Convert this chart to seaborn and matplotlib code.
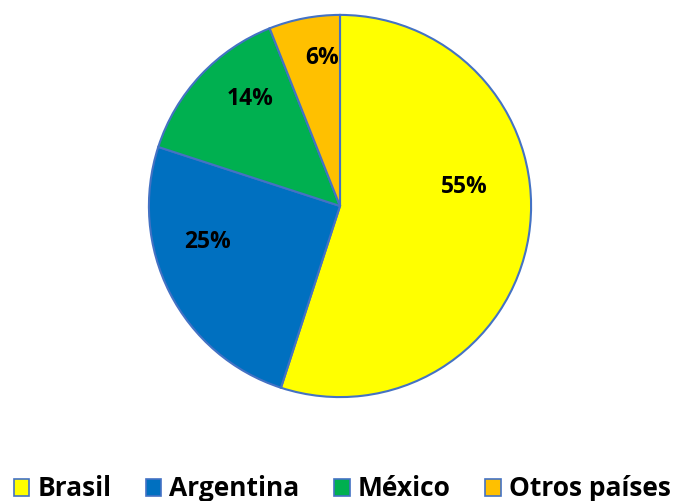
import matplotlib
matplotlib.use("Agg")
import matplotlib.pyplot as plt
import seaborn as sns
import numpy as np

paises = ["Brasil", "Argentina", "México", "Otros países"]
porcentajes = [55, 25, 14, 6]
colores = ["#FFFF00", "#0070C0", "#00B050", "#FFC000"]

sns.set_theme(style="white")
plt.rcParams["font.family"] = ["Open Sans", "DejaVu Sans"]

fig = plt.figure(figsize=(6.84, 5.01), dpi=100)
ax = fig.add_axes([147 / 684, 102 / 501, 386 / 684, 386 / 501])

wedges, texts, autotexts = ax.pie(
    porcentajes, colors=sns.color_palette(colores), startangle=90, counterclock=False,
    autopct="%d%%", pctdistance=0.7,
    wedgeprops=dict(edgecolor="#4472C4", linewidth=1.5),
    textprops=dict(fontsize=16.5, fontweight="bold", color="black"),
)

# label placement (Excel best-fit style), angle in degrees, radius fraction
pos_etiquetas = [(8.5, 0.66), (195, 0.72), (130, 0.73), (97, 0.78)]
for t, (ang, r) in zip(autotexts, pos_etiquetas):
    a = np.deg2rad(ang)
    t.set_position((r * np.cos(a), r * np.sin(a)))

ax.set_xlim(-1.01, 1.01)
ax.set_ylim(-1.01, 1.01)
ax.set_aspect("equal")

handles = [plt.Rectangle((0, 0), 1, 1, facecolor=c, edgecolor="#4472C4", linewidth=1.2) for c in colores]
fig.legend(handles, paises, loc="center", bbox_to_anchor=(0.5, 12 / 501), ncol=4, frameon=False,
           prop=dict(size=19, weight="bold"), labelcolor="black", handlelength=0.6, handleheight=0.6,
           handletextpad=0.3, columnspacing=1.3, borderaxespad=0)

fig.savefig("out.png", dpi=100)
